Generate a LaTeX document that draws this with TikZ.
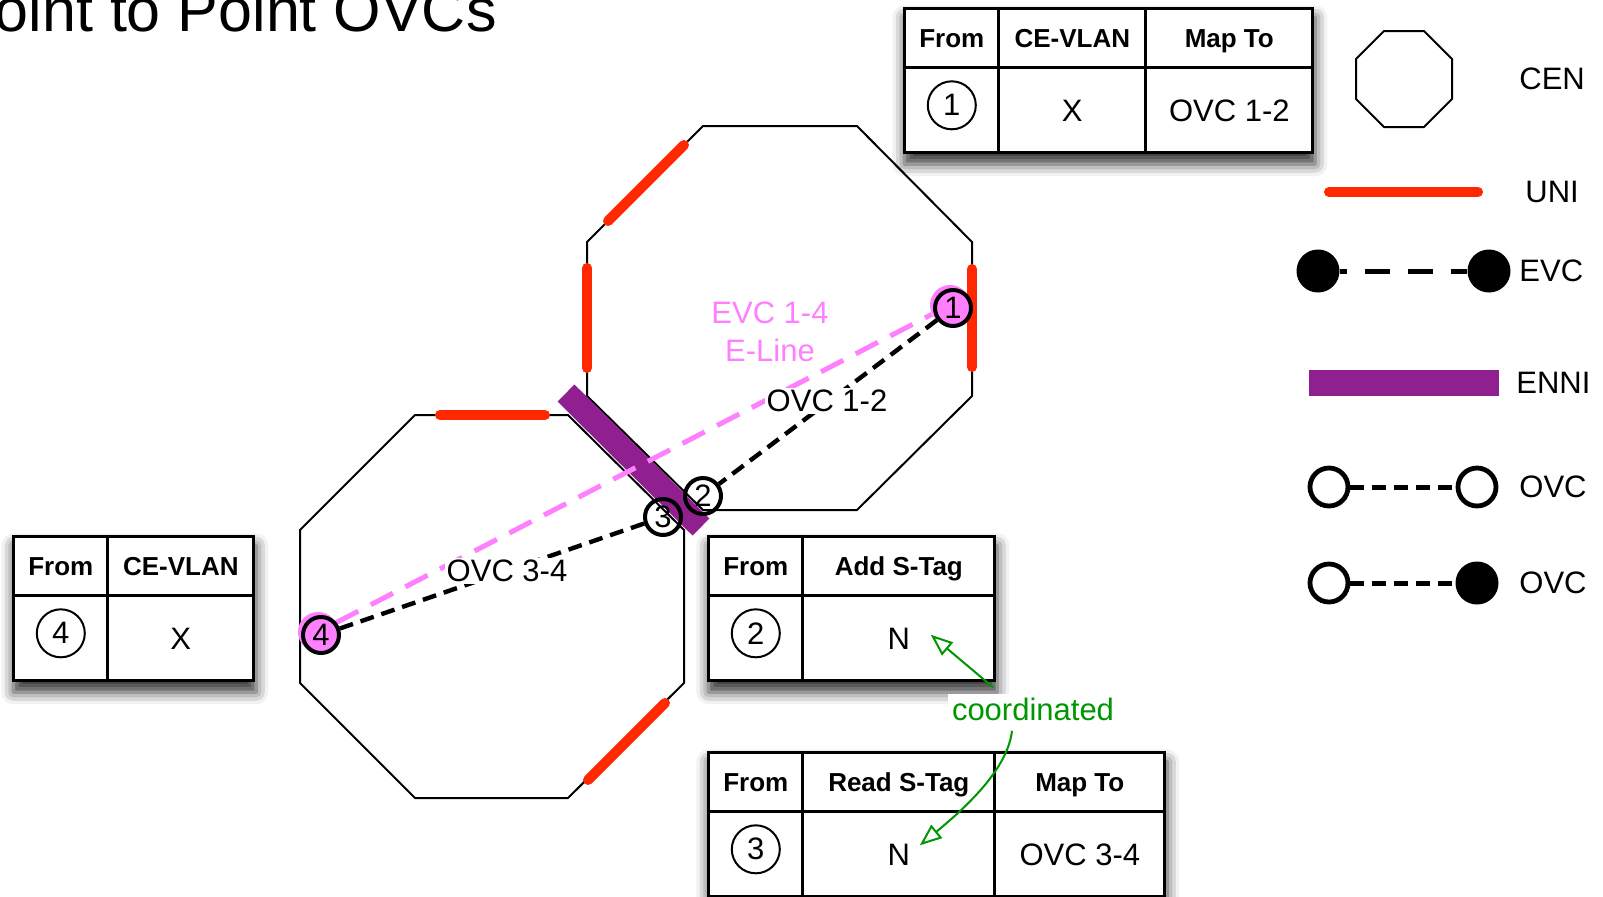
\documentclass[tikz,border=0pt]{standalone}
\usepackage{fontspec}
\setmainfont{Liberation Sans}
\usetikzlibrary{positioning, matrix, arrows.meta, shadows.blur}

\definecolor{unired}{RGB}{255,40,0}
\definecolor{ennipurple}{RGB}{144,32,144}
\definecolor{evcpink}{RGB}{255,128,255}
\definecolor{coordgreen}{RGB}{0,150,0}

\tikzset{
  cen/.style={draw, line width=1pt},
  uni/.style={draw=unired, line width=5pt, line cap=round},
  enni/.style={draw=ennipurple, line width=12pt},
  evcline/.style={draw=evcpink, line width=2.5pt, dash pattern=on 12.5pt off 7pt},
  ovcline/.style={draw, line width=2.2pt, dash pattern=on 7pt off 4pt},
  ovcpt/.style={circle, draw, line width=2pt, minimum size=18pt, inner sep=0pt,
    font=\fontsize{15.5}{18}\selectfont},
  evcpt/.style={circle, fill=evcpink, minimum size=20pt, inner sep=0pt},
  lbl/.style={font=\fontsize{15.5}{19.25}\selectfont, inner sep=1pt},
  tbl/.style={matrix of nodes, nodes in empty cells, inner sep=0pt, fill=white,
    blur shadow={shadow xshift=0.5pt, shadow yshift=-5pt, shadow blur radius=6pt, shadow opacity=80},
    row sep=-1.4pt, column sep=-1.4pt,
    nodes={draw, line width=1.4pt, outer sep=0pt, inner sep=0pt, anchor=center},
    row 1/.style={nodes={minimum height=29.5pt, text height=9.3pt, text depth=0pt,
      font=\fontsize{13}{15}\bfseries}},
    row 2/.style={nodes={minimum height=42.5pt, text height=11.1pt, text depth=0pt,
      font=\fontsize{15.5}{18}\selectfont}},
    column 1/.style={nodes={minimum width=47pt}}},
  tabnum/.style={circle, draw, line width=1pt, minimum size=24pt, inner sep=0pt,
    font=\fontsize{15.5}{18}\selectfont},
  coordarrow/.style={draw=coordgreen, line width=1pt, -{Triangle[open, length=11pt, width=8.5pt]}}
}

\begin{document}
\begin{tikzpicture}[x=0.5pt, y=-0.5pt]
  \useasboundingbox (0,0) rectangle (1603,896);

  % title, cut by the page edge
  \node[font=\fontsize{30.5}{36}\selectfont, anchor=base east, inner sep=0pt] (title) at (497,31) {Point to Point OVCs};

  % the two CENs
  \draw[cen] (703,126) -- (857,126) -- (972,242) -- (972,396) -- (857,510) -- (703,510) -- (587,396) -- (587,242) -- cycle;
  \draw[cen] (415,415) -- (568,415) -- (684,530) -- (684,683) -- (568,798) -- (415,798) -- (300,683) -- (300,530) -- cycle;

  % UNIs
  \draw[uni] (608,221) -- (684,145);
  \draw[uni] (587,268) -- (587,368);
  \draw[uni] (972,269) -- (972,367);
  \draw[uni] (440,415) -- (545,415);
  \draw[uni] (588,780) -- (665,703);

  % ENNI
  \draw[enni] (566,393) -- (701,527);

  % EVC
  \node[evcpt] (e1) at (950,305) {};
  \node[evcpt] (e4) at (318,632) {};
  \draw[evcline] (e4) -- (e1);

  % OVC end points
  \node[ovcpt, fill=evcpink] (n1) at (953,308) {1};
  \node[ovcpt] (n2) at (703,496) {2};
  \node[ovcpt] (n3) at (663,517) {3};
  \node[ovcpt, fill=evcpink] (n4) at (321,635) {4};
  \draw[ovcline] (n1) -- (n2);
  \draw[ovcline] (n3) -- (n4);

  \node[lbl, text=evcpink, align=center] (evclbl) at (770,332) {EVC 1-4\\E-Line};
  \node[lbl, fill=white] (ovc12) at (827,401) {OVC 1-2};
  \node[lbl, fill=white] (ovc34) at (507,571) {OVC 3-4};

  % tables
  \matrix (tA) [tbl, anchor=north west,
    column 2/.style={nodes={minimum width=73.5pt}},
    column 3/.style={nodes={minimum width=83.5pt}}] at (903,7) {
    From & CE-VLAN & Map To \\
         & X       & OVC 1-2 \\
  };
  \node[tabnum] (cA) at ([yshift=2.5pt]tA-2-1.center) {1};

  \matrix (tD) [tbl, anchor=north west,
    column 2/.style={nodes={minimum width=73pt}}] at (12,535) {
    From & CE-VLAN \\
         & X \\
  };
  \node[tabnum] (cD) at ([yshift=2.5pt]tD-2-1.center) {4};

  \matrix (tB) [tbl, anchor=north west,
    column 2/.style={nodes={minimum width=96pt}}] at (707,535) {
    From & Add S-Tag \\
         & N \\
  };
  \node[tabnum] (cB) at ([yshift=2.5pt]tB-2-1.center) {2};

  \matrix (tC) [tbl, anchor=north west,
    column 2/.style={nodes={minimum width=96pt}},
    column 3/.style={nodes={minimum width=85pt}}] at (707,751) {
    From & Read S-Tag & Map To \\
         & N          & OVC 3-4 \\
  };
  \node[tabnum] (cC) at ([yshift=2.5pt]tC-2-1.center) {3};

  % coordinated S-Tags
  \node[lbl, text=coordgreen, fill=white, inner sep=2pt] (coordlbl) at (1033,709) {coordinated};
  \draw[coordarrow] ([xshift=-20pt, yshift=3pt]coordlbl.north) -- ([xshift=16pt, yshift=1.75pt]tB-2-2.center);
  \draw[coordarrow] ([xshift=-10.5pt, yshift=-3pt]coordlbl.south) .. controls (1008,765) and (975,800) .. ([xshift=10.5pt, yshift=4.5pt]tC-2-2.center);

  % legend
  \draw[cen] (1384,31) -- (1424,31) -- (1452,59) -- (1452,99) -- (1424,127) -- (1384,127) -- (1356,99) -- (1356,59) -- cycle;
  \node[lbl, anchor=west] (lgcen) at (1517,79) {CEN};

  \draw[uni] (1329,192) -- (1478,192);
  \node[lbl, anchor=west] (lguni) at (1523,192) {UNI};

  \node[circle, fill, minimum size=21.5pt, inner sep=0pt] (lgevcA) at (1318,271) {};
  \node[circle, fill, minimum size=21.5pt, inner sep=0pt] (lgevcB) at (1489,271) {};
  \draw[line width=2.5pt, dash pattern=on 12.5pt off 9pt, dash phase=9pt] (lgevcA) -- (lgevcB);
  \node[lbl, anchor=west] (lgevc) at (1517,271) {EVC};

  \draw[enni, line width=13pt] (1309,383) -- (1499,383);
  \node[lbl, anchor=west] (lgenni) at (1514,383) {ENNI};

  \node[ovcpt, line width=2.4pt, minimum size=19pt] (lgovcA) at (1329,487) {};
  \node[ovcpt, line width=2.4pt, minimum size=19pt] (lgovcB) at (1477,487) {};
  \draw[ovcline, line width=2.5pt] (lgovcA) -- (lgovcB);
  \node[lbl, anchor=west] (lgovc) at (1517,487) {OVC};

  \node[ovcpt, line width=2.4pt, minimum size=19pt] (lgovcC) at (1329,583) {};
  \node[circle, fill, minimum size=21.5pt, inner sep=0pt] (lgovcD) at (1477,583) {};
  \draw[ovcline, line width=2.5pt] (lgovcC) -- (lgovcD);
  \node[lbl, anchor=west] (lgovcb) at (1517,583) {OVC};
\end{tikzpicture}
\end{document}
